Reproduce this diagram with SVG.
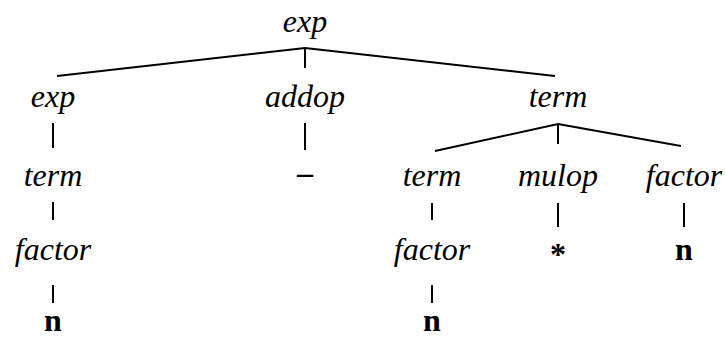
<svg xmlns="http://www.w3.org/2000/svg" width="725" height="338" viewBox="0 0 725 338">
<style>
.t{font-family:"Liberation Serif","Times New Roman",serif;font-style:italic;font-size:32px;fill:#000;text-anchor:middle}
.b{font-family:"Liberation Serif","Times New Roman",serif;font-weight:bold;font-size:32px;fill:#000;text-anchor:middle}
.e line,.e polyline{stroke:#000;stroke-width:2;fill:none}
</style>
<rect width="725" height="338" fill="#fff"/>
<g id="n-root"><text class="t" x="305" y="32">exp</text></g>
<g id="n-exp"><text class="t" x="53" y="107">exp</text></g>
<g id="n-addop"><text class="t" x="305" y="107">addop</text></g>
<g id="n-term"><text class="t" x="558" y="107">term</text></g>
<g id="n-term2"><text class="t" x="53" y="186">term</text></g>
<g id="n-minus"><text class="b" x="305" y="183">–</text></g>
<g id="n-term3"><text class="t" x="432" y="186">term</text></g>
<g id="n-mulop"><text class="t" x="558" y="186">mulop</text></g>
<g id="n-factor1"><text class="t" x="684" y="186">factor</text></g>
<g id="n-factor2"><text class="t" x="53" y="260">factor</text></g>
<g id="n-factor3"><text class="t" x="432" y="260">factor</text></g>
<g id="n-star"><text class="b" x="558" y="265">*</text></g>
<g id="n-n1"><text class="b" x="684" y="260">n</text></g>
<g id="n-n2"><text class="b" x="53" y="331">n</text></g>
<g id="n-n3"><text class="b" x="432" y="331">n</text></g>
<g id="edges" class="e">
<polyline points="57,76 305,48 555,76"/>
<line x1="305" y1="48" x2="305" y2="68"/>
<polyline points="435,151 558,124 681,146"/>
<line x1="558" y1="124" x2="558" y2="144"/>
<line x1="53" y1="123" x2="53" y2="148"/>
<line x1="305" y1="123" x2="305" y2="150"/>
<line x1="53" y1="202" x2="53" y2="220"/>
<line x1="432" y1="203" x2="432" y2="220"/>
<line x1="558" y1="203" x2="558" y2="227"/>
<line x1="684" y1="203" x2="684" y2="227"/>
<line x1="53" y1="285" x2="53" y2="303"/>
<line x1="432" y1="285" x2="432" y2="303"/>
</g>
</svg>
